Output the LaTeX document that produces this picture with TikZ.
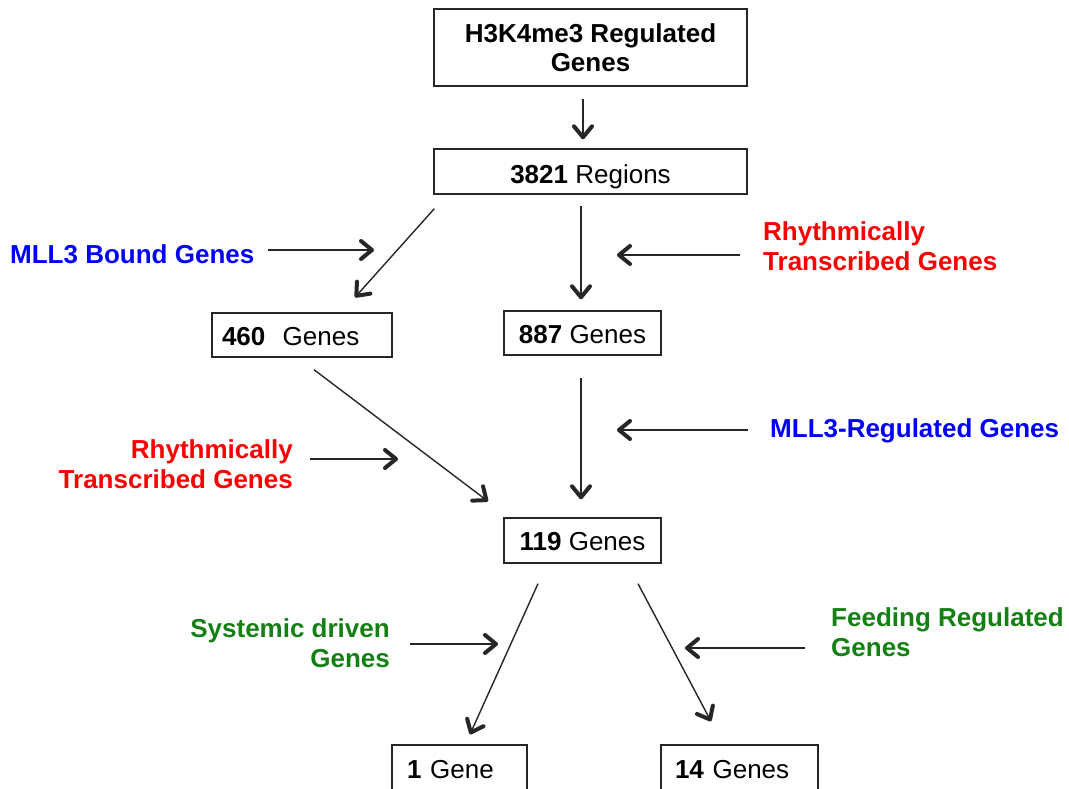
\documentclass[tikz,border=0pt]{standalone}
\usepackage{fontspec}
\setmainfont{Liberation Sans}
\usetikzlibrary{arrows.meta,calc}
\definecolor{lblblue}{RGB}{0,0,250}
\definecolor{lblred}{RGB}{250,0,0}
\definecolor{lblgreen}{RGB}{20,128,20}
\tikzset{
  box/.style={draw=black!85, line width=1.4pt, inner sep=0pt, font=\fontsize{26}{29}\selectfont},
  onerow/.style={text height=#1, text depth=0pt},
  lbl/.style={inner sep=0pt, font=\fontsize{26}{30}\selectfont\bfseries},
  flow/.style={line width=1.4pt, draw=black!85,
    -{Straight Barb[length=11pt,width=18pt,line width=4pt,round]}},
}
\begin{document}
\begin{tikzpicture}[x=1pt,y=-1pt]
\useasboundingbox (0,0) rectangle (1069,789);
\clip (0,0) rectangle (1069,789);

% boxes
\node[box, minimum width=313, minimum height=77, align=center] (top) at (590.5,47.5)
  {\bfseries H3K4me3 Regulated\\\bfseries Genes};
\node[box, onerow=23.6pt, minimum width=313, minimum height=45] (reg) at (590.5,171.5)
  {\textbf{3821} Regions};
\node[box, onerow=20.8pt, minimum width=180, minimum height=44, text width=160, align=left] (g460) at (302,335)
  {\textbf{460}\ \ Genes};
\node[box, onerow=20.8pt, minimum width=157, minimum height=44] (g887) at (582.5,333)
  {\textbf{887} Genes};
\node[box, onerow=20.8pt, minimum width=157, minimum height=45] (g119) at (582.5,540.5)
  {\textbf{119} Genes};
\node[box, minimum width=135, minimum height=50, text width=105, align=left] (g1) at (459.5,770)
  {\textbf{1} Gene};
\node[box, minimum width=157, minimum height=50, text width=129, align=left] (g14) at (739.5,770)
  {\textbf{14} Genes};

% filter labels
\node[lbl, text=lblblue, anchor=west] (mllb) at (10,254) {MLL3 Bound Genes};
\node[lbl, text=lblred, anchor=west, align=left] (rtr) at (763,246.5)
  {Rhythmically\\Transcribed Genes};
\node[lbl, text=lblblue, anchor=west] (mllr) at (770,431) {MLL3-Regulated Genes};
\node[lbl, text=lblred, anchor=east, align=right] (rtl) at (293,464)
  {Rhythmically\\Transcribed Genes};
\node[lbl, text=lblgreen, anchor=east, align=right] (sys) at (390,643.5)
  {Systemic driven\\Genes};
\node[lbl, text=lblgreen, anchor=west, align=left] (feed) at (831,632)
  {Feeding Regulated\\Genes};

% free ends of the filter arrows
\coordinate (mllbS) at (268,250);  \coordinate (mllbE) at (374,250);
\coordinate (rtrS)  at (740,255);  \coordinate (rtrE)  at (617,255);
\coordinate (mllrS) at (748,430);  \coordinate (mllrE) at (617,430);
\coordinate (rtlS)  at (310,459);  \coordinate (rtlE)  at (398,459);
\coordinate (sysS)  at (410,644);  \coordinate (sysE)  at (498,644);
\coordinate (feedS) at (805,648);  \coordinate (feedE) at (685,648);

% main flow
\draw[flow] ($(top.south)+(-7.5,12)$) -- ($(reg.north)+(-7.5,-9)$);
\draw[flow] ($(reg.south west)+(1,14)$) -- ($(g460.north)+(53,-15)$);
\draw[flow] ($(reg.south)+(-9.5,11)$) -- ($(g887.north)+(-1.5,-11)$);
\draw[flow] ($(g460.south)+(12,12)$) -- ($(g119.north)+(-94.5,-16)$);
\draw[flow] ($(g887.south)+(-1.5,22)$) -- ($(g119.north)+(-1.5,-18)$);
\draw[flow] ($(g119.south)+(-44.5,20)$) -- ($(g1.north)+(10.5,-10)$);
\draw[flow] ($(g119.south)+(55.5,20)$) -- ($(g14.north)+(-28.5,-23)$);

% filter arrows
\draw[flow] (mllbS) -- (mllbE);
\draw[flow] (rtrS) -- (rtrE);
\draw[flow] (mllrS) -- (mllrE);
\draw[flow] (rtlS) -- (rtlE);
\draw[flow] (sysS) -- (sysE);
\draw[flow] (feedS) -- (feedE);
\end{tikzpicture}
\end{document}
